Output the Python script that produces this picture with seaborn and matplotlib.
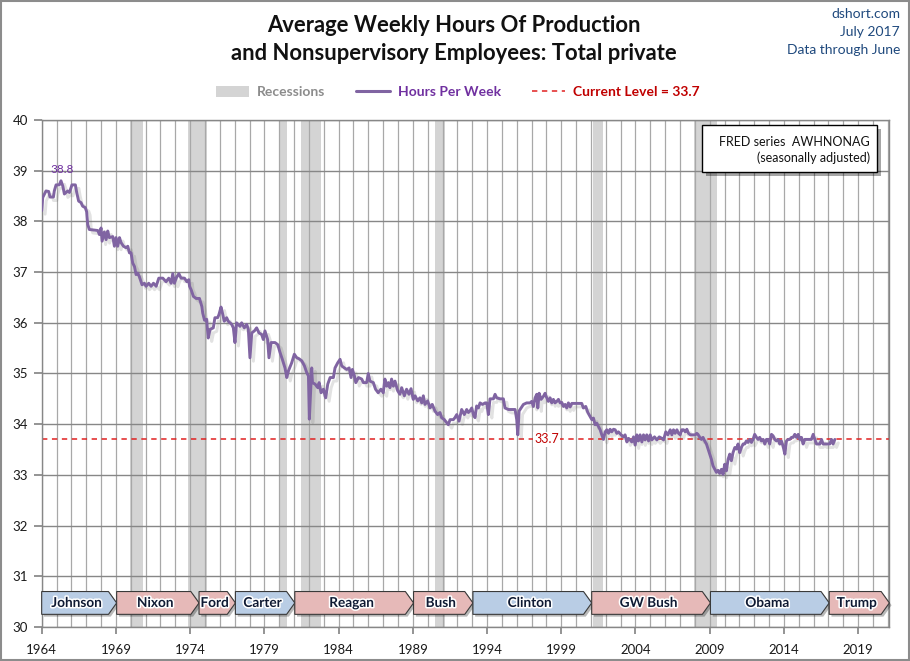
import numpy as np
import pandas as pd
import seaborn as sns
import matplotlib
matplotlib.use("Agg")
import matplotlib.pyplot as plt
from matplotlib.patches import Polygon, Rectangle, Patch
from matplotlib.lines import Line2D
import matplotlib.patheffects as pe

# ---------------- data ----------------
years = [
    1964.00, 1964.07, 1964.29, 1964.47, 1964.56, 1964.79, 1964.85, 1964.97, 1965.19, 1965.30,
    1965.42, 1965.53, 1965.64, 1965.75, 1965.87, 1966.04, 1966.27, 1966.36, 1966.49, 1966.65,
    1966.76, 1966.94, 1967.03, 1967.10, 1967.21, 1967.78, 1967.89, 1968.00, 1968.07, 1968.22,
    1968.34, 1968.45, 1968.56, 1968.79, 1968.90, 1969.01, 1969.12, 1969.24, 1969.35, 1969.51,
    1969.69, 1969.80, 1969.91, 1970.02, 1970.13, 1970.25, 1970.36, 1970.47, 1970.58, 1970.76,
    1970.92, 1971.03, 1971.21, 1971.37, 1971.53, 1971.71, 1971.89, 1972.16, 1972.38, 1972.56,
    1972.72, 1972.83, 1972.94, 1973.06, 1973.24, 1973.39, 1973.62, 1973.78, 1973.91, 1973.96,
    1974.07, 1974.22, 1974.40, 1974.63, 1974.79, 1974.85, 1974.97,
    1975.11, 1975.22, 1975.34, 1975.56, 1975.67, 1975.85, 1975.94, 1976.08, 1976.17, 1976.30,
    1976.46, 1976.57, 1976.80, 1976.91, 1977.02, 1977.13, 1977.36, 1977.47, 1977.65, 1977.81,
    1977.92, 1978.03, 1978.15, 1978.33, 1978.48, 1978.64, 1978.82, 1978.93, 1979.04, 1979.22,
    1979.31, 1979.45, 1979.72, 1979.90, 1980.06, 1980.21, 1980.39, 1980.51, 1980.62, 1980.84,
    1981.02, 1981.18, 1981.34, 1981.52, 1981.70, 1981.85, 1981.97, 1982.03, 1982.19, 1982.24,
    1982.42, 1982.60, 1982.69, 1982.82, 1982.98, 1983.13, 1983.27, 1983.43, 1983.65, 1983.76,
    1983.94, 1984.10, 1984.21, 1984.39, 1984.55, 1984.71, 1984.84, 1984.93, 1985.07, 1985.16,
    1985.34, 1985.56, 1985.67,
    1985.89, 1986.00, 1986.11, 1986.34, 1986.49, 1986.67, 1986.85, 1987.01, 1987.12, 1987.24,
    1987.35, 1987.46, 1987.57, 1987.69, 1987.80, 1987.98, 1988.13, 1988.25, 1988.43, 1988.58,
    1988.74, 1988.88, 1989.03, 1989.15, 1989.33, 1989.48, 1989.60, 1989.71, 1989.82, 1990.00,
    1990.16, 1990.31, 1990.49, 1990.67, 1990.83, 1990.94, 1991.12, 1991.28, 1991.39, 1991.51,
    1991.73, 1991.84, 1991.96, 1992.11, 1992.29, 1992.47, 1992.63, 1992.74, 1992.85, 1992.97,
    1993.08, 1993.19, 1993.30, 1993.42, 1993.53, 1993.69, 1993.87, 1993.98, 1994.09, 1994.20,
    1994.43, 1994.54, 1994.65, 1994.88, 1995.10, 1995.21, 1995.44, 1995.66, 1995.89, 1996.00,
    1996.07, 1996.16, 1996.29, 1996.45,
    1996.67, 1996.90, 1997.01, 1997.12, 1997.24, 1997.35, 1997.42, 1997.51, 1997.64, 1997.80,
    1997.91, 1998.02, 1998.13, 1998.25, 1998.36, 1998.47, 1998.58, 1998.70, 1998.81, 1998.92,
    1999.03, 1999.15, 1999.26, 1999.37, 1999.48, 1999.60, 1999.71, 2000.38, 2000.49, 2000.65,
    2000.79, 2000.94, 2001.06, 2001.17, 2001.28, 2001.39, 2001.51, 2001.62, 2001.73, 2001.84,
    2001.96, 2002.07, 2002.18, 2002.29, 2002.40, 2002.52, 2002.63, 2002.74, 2002.85, 2003.03,
    2003.19, 2003.30, 2003.42, 2003.53, 2003.64, 2003.75, 2003.87, 2003.98, 2004.09, 2004.20,
    2004.31, 2004.43, 2004.54, 2004.65, 2004.76, 2004.88, 2004.99, 2005.10, 2005.28, 2005.44,
    2005.60, 2005.78, 2005.89, 2006.04, 2006.18, 2006.34, 2006.45, 2006.56, 2006.67, 2006.79,
    2006.90, 2007.01, 2007.12, 2007.24, 2007.35, 2007.46, 2007.57, 2007.69, 2007.80, 2008.02,
    2008.13, 2008.21,
    2008.33, 2008.44, 2008.55, 2008.66, 2008.78, 2008.89, 2009.00, 2009.11, 2009.22, 2009.34,
    2009.45, 2009.56, 2009.67, 2009.79, 2009.90, 2010.01, 2010.12, 2010.24, 2010.35, 2010.46,
    2010.57, 2010.69, 2010.80, 2010.91, 2011.02, 2011.13, 2011.25, 2011.36, 2011.47, 2011.58,
    2011.70, 2011.81, 2011.92, 2012.03, 2012.15, 2012.26, 2012.37, 2012.48, 2012.60, 2012.71,
    2012.82, 2012.93, 2013.04, 2013.16, 2013.27, 2013.38, 2013.49, 2013.61, 2013.72, 2013.83,
    2013.94, 2014.06, 2014.17, 2014.28, 2014.39, 2014.51, 2014.62, 2014.73, 2014.84, 2014.96,
    2015.07, 2015.18, 2015.29, 2015.40, 2015.63, 2015.85, 2015.97, 2016.08, 2016.19, 2016.42,
    2016.53, 2016.64, 2016.98, 2017.09, 2017.20, 2017.31, 2017.43,
]
hours = [
    38.21, 38.47, 38.60, 38.59, 38.48, 38.48, 38.60, 38.72, 38.72, 38.80,
    38.70, 38.54, 38.57, 38.60, 38.57, 38.72, 38.72, 38.57, 38.40, 38.37,
    38.30, 38.27, 38.19, 37.94, 37.84, 37.82, 37.74, 37.87, 37.61, 37.79,
    37.64, 37.81, 37.68, 37.70, 37.51, 37.68, 37.51, 37.68, 37.58, 37.51,
    37.48, 37.51, 37.38, 37.38, 37.18, 37.11, 36.95, 36.98, 36.91, 36.75,
    36.78, 36.72, 36.78, 36.72, 36.78, 36.72, 36.88, 36.88, 36.81, 36.88,
    36.78, 36.97, 36.78, 36.88, 36.97, 36.88, 36.88, 36.81, 36.85, 36.72,
    36.65, 36.52, 36.48, 36.48, 36.32, 36.19, 36.05,
    36.07, 35.70, 35.87, 35.90, 36.10, 36.10, 36.16, 36.31, 36.20, 36.03,
    36.10, 36.03, 35.97, 35.90, 35.61, 36.00, 35.93, 36.00, 35.90, 35.97,
    35.87, 35.31, 35.80, 35.84, 35.90, 35.80, 35.77, 35.67, 35.84, 35.67,
    35.31, 35.61, 35.61, 35.57, 35.41, 35.28, 35.11, 34.92, 35.05, 35.21,
    35.38, 35.31, 35.29, 35.25, 35.15, 35.02, 34.95, 34.10, 35.11, 34.82,
    34.79, 34.72, 34.82, 34.62, 34.69, 34.52, 34.79, 34.92, 34.92, 35.11,
    35.21, 35.28, 35.15, 35.11, 35.08, 35.11, 34.92, 35.08, 34.95, 34.82,
    34.92, 34.89, 34.82,
    34.82, 35.00, 34.85, 34.82, 34.69, 34.62, 34.69, 34.62, 34.89, 34.75,
    34.82, 34.72, 34.89, 34.75, 34.85, 34.66, 34.59, 34.72, 34.56, 34.69,
    34.59, 34.70, 34.49, 34.56, 34.46, 34.52, 34.42, 34.56, 34.39, 34.46,
    34.32, 34.39, 34.26, 34.19, 34.23, 34.13, 34.09, 34.03, 33.99, 34.09,
    34.09, 34.13, 34.19, 34.06, 34.29, 34.19, 34.29, 34.23, 34.26, 34.32,
    34.19, 34.13, 34.36, 34.32, 34.42, 34.39, 34.42, 34.42, 34.19, 34.50,
    34.50, 34.59, 34.52, 34.50, 34.50, 34.32, 34.29, 34.29, 34.29, 34.09,
    33.79, 34.26, 34.32, 34.39,
    34.42, 34.42, 34.45, 34.35, 34.52, 34.59, 34.32, 34.61, 34.49, 34.55,
    34.61, 34.52, 34.45, 34.52, 34.42, 34.49, 34.42, 34.45, 34.49, 34.42,
    34.43, 34.35, 34.39, 34.32, 34.42, 34.34, 34.41, 34.41, 34.32, 34.35,
    34.23, 34.15, 34.09, 34.12, 33.99, 34.02, 33.95, 33.89, 33.79, 33.70,
    33.85, 33.89, 33.82, 33.90, 33.85, 33.90, 33.89, 33.82, 33.85, 33.79,
    33.75, 33.79, 33.65, 33.72, 33.69, 33.65, 33.75, 33.59, 33.79, 33.67,
    33.79, 33.65, 33.79, 33.69, 33.79, 33.67, 33.79, 33.69, 33.75, 33.69,
    33.75, 33.72, 33.69, 33.85, 33.79, 33.89, 33.79, 33.89, 33.82, 33.89,
    33.82, 33.79, 33.89, 33.89, 33.85, 33.90, 33.82, 33.79, 33.79, 33.79,
    33.82, 33.80,
    33.74, 33.70, 33.74, 33.67, 33.61, 33.51, 33.41, 33.31, 33.18, 33.11,
    33.05, 33.09, 33.03, 33.11, 33.01, 33.21, 33.08, 33.31, 33.41, 33.28,
    33.44, 33.54, 33.51, 33.61, 33.44, 33.54, 33.61, 33.61, 33.67, 33.64,
    33.70, 33.64, 33.70, 33.80, 33.74, 33.70, 33.74, 33.67, 33.70, 33.61,
    33.70, 33.70, 33.61, 33.80, 33.77, 33.70, 33.67, 33.70, 33.61, 33.67,
    33.57, 33.41, 33.67, 33.70, 33.70, 33.74, 33.74, 33.80, 33.74, 33.80,
    33.70, 33.74, 33.61, 33.70, 33.70, 33.70, 33.80, 33.70, 33.61, 33.61,
    33.70, 33.61, 33.61, 33.61, 33.70, 33.61, 33.70,
]
current_level = 33.7
peak_year, peak_value = 1965.30, 38.8

rec_start = [1969.92, 1973.83, 1980.00, 1981.50, 1990.50, 2001.17, 2007.92]
rec_end = [1970.83, 1975.17, 1980.50, 1982.83, 1991.17, 2001.83, 2009.50]

pres_names = ["Johnson", "Nixon", "Ford", "Carter", "Reagan", "Bush", "Clinton", "GW Bush", "Obama", "Trump"]
pres_start = [1964.00, 1969.05, 1974.60, 1977.05, 1981.05, 1989.05, 1993.05, 2001.05, 2009.05, 2017.05]
pres_end = [1969.05, 1974.60, 1977.05, 1981.05, 1989.05, 1993.05, 2001.05, 2009.05, 2017.05, 2021.10]
pres_party = ["D", "R", "R", "D", "R", "R", "D", "R", "D", "R"]

x_ticks = [1964, 1969, 1974, 1979, 1984, 1989, 1994, 1999, 2004, 2009, 2014, 2019]
y_ticks = [30, 31, 32, 33, 34, 35, 36, 37, 38, 39, 40]

# ---------------- figure ----------------
sns.set_theme(style="white")
plt.rcParams["font.family"] = ["Lato", "DejaVu Sans"]

fig = plt.figure(figsize=(9.1, 6.61), dpi=100)
ax = fig.add_axes([0.0458, 0.0514, 0.9315, 0.7671])

df = pd.DataFrame({"year": years, "hours": hours})

for s, e in zip(rec_start, rec_end):
    ax.axvspan(s, e, color="#d4d4d4", lw=0, zorder=0.2)

ax.set_axisbelow(True)
ax.set_xticks(x_ticks)
ax.set_xticks(list(range(1965, 2022)), minor=True)
ax.set_yticks(y_ticks)
ax.grid(which="both", axis="x", color="#a8a8a8", lw=0.9)
ax.grid(which="major", axis="y", color="#878787", lw=1.0)

ax.axhline(current_level, color="#e02020", ls=(0, (3.5, 3)), lw=1.1, zorder=2.5)

sns.lineplot(data=df, x="year", y="hours", ax=ax, color="#8064a2", lw=2.1,
             estimator=None, legend=False, zorder=3,
             path_effects=[pe.SimpleLineShadow(offset=(2.5, -2.5), shadow_color="#707070", alpha=0.2),
                           pe.Normal()])

ax.set_xlim(1964, 2021.1)
ax.set_ylim(30, 40)
ax.set_xlabel("")
ax.set_ylabel("")
ax.set_xticklabels([str(t) for t in x_ticks], fontsize=9.5, color="#1a1a1a")
ax.set_yticklabels([str(t) for t in y_ticks], fontsize=9.5, color="#1a1a1a")
ax.tick_params(axis="x", which="major", length=5, color="#878787", pad=7, direction="out", bottom=True)
ax.tick_params(axis="x", which="minor", length=0)
ax.tick_params(axis="y", length=6, color="#878787", pad=4, direction="out", left=True)
for sp in ax.spines.values():
    sp.set_color("#878787")
    sp.set_linewidth(1.0)

# annotations
ax.text(peak_year + 0.1, peak_value + 0.23, f"{peak_value:.1f}", color="#7030a0",
        ha="center", va="center", fontsize=8.5, zorder=5)
ax.text(1998.03, current_level, f"{current_level:.1f}", color="#c00000", ha="center", va="center",
        fontsize=9, zorder=5, bbox=dict(fc="white", ec="none", pad=0.8))

# president arrows
ylo, yhi = 30.25, 30.70
ymid = (ylo + yhi) / 2
tip = 0.55
for name, s, e, p in zip(pres_names, pres_start, pres_end, pres_party):
    fc = "#b9cde5" if p == "D" else "#e6b9b8"
    pts = [(s, ylo), (e - tip, ylo), (e, ymid), (e - tip, yhi), (s, yhi)]
    sh = [(x + 0.15, y - 0.045) for x, y in pts]
    ax.add_patch(Polygon(sh, closed=True, fc="#000000", alpha=0.28, ec="none", zorder=3.8, clip_on=False))
    ax.add_patch(Polygon(pts, closed=True, fc=fc, ec="#3a3a3a", lw=0.8, zorder=4, clip_on=False))
    ax.text((s + e - tip * 0.6) / 2, ymid, name, ha="center", va="center", fontsize=9.8,
            weight="bold", color="#0f1a33", zorder=5,
            path_effects=[pe.withStroke(linewidth=2.2, foreground="white")])

# FRED info box
ax.add_patch(Rectangle((0.784, 0.890), 0.206, 0.093, transform=ax.transAxes,
                       fc="#000000", alpha=0.35, ec="none", zorder=5))
ax.add_patch(Rectangle((0.779, 0.897), 0.206, 0.093, transform=ax.transAxes,
                       fc="white", ec="black", lw=1.0, zorder=6))
ax.text(0.977, 0.957, "FRED series  AWHNONAG", transform=ax.transAxes, ha="right", va="center",
        fontsize=9, color="#111111", zorder=7)
ax.text(0.977, 0.926, "(seasonally adjusted)", transform=ax.transAxes, ha="right", va="center",
        fontsize=9, color="#111111", zorder=7)

# titles
fig.text(0.499, 1 - 25 / 661, "Average Weekly Hours Of Production", ha="center", va="center",
         fontsize=15.8, weight="bold", color="#111111")
fig.text(0.499, 1 - 54 / 661, "and Nonsupervisory Employees: Total private", ha="center", va="center",
         fontsize=15.8, weight="bold", color="#111111")
fig.text(0.989, 1 - 14 / 661, "dshort.com", ha="right", va="center", fontsize=10, color="#1f497d")
fig.text(0.989, 1 - 32 / 661, "July 2017", ha="right", va="center", fontsize=10, color="#1f497d")
fig.text(0.989, 1 - 50 / 661, "Data through June", ha="right", va="center", fontsize=10, color="#1f497d")

# legend
handles = [Patch(fc="#d4d4d4", ec="none"),
           Line2D([], [], color="#8064a2", lw=2.2),
           Line2D([], [], color="#e02020", lw=1.1, ls=(0, (3.5, 3)))]
labels = ["Recessions", "Hours Per Week", f"Current Level = {current_level}"]
leg = fig.legend(handles, labels, loc="center", bbox_to_anchor=(0.503, 1 - 92 / 661), ncol=3,
                 frameon=False, handlelength=2.4, handleheight=0.9,
                 columnspacing=2.2, handletextpad=0.6, prop={"weight": "bold", "size": 10})
for txt, c in zip(leg.get_texts(), ["#8c8c8c", "#7030a0", "#c00000"]):
    txt.set_color(c)

fig.add_artist(Rectangle((0.001, 0.001), 0.998, 0.998, transform=fig.transFigure, fill=False,
                         ec="#8c8c8c", lw=1.5))

fig.savefig("out.png", dpi=100)
